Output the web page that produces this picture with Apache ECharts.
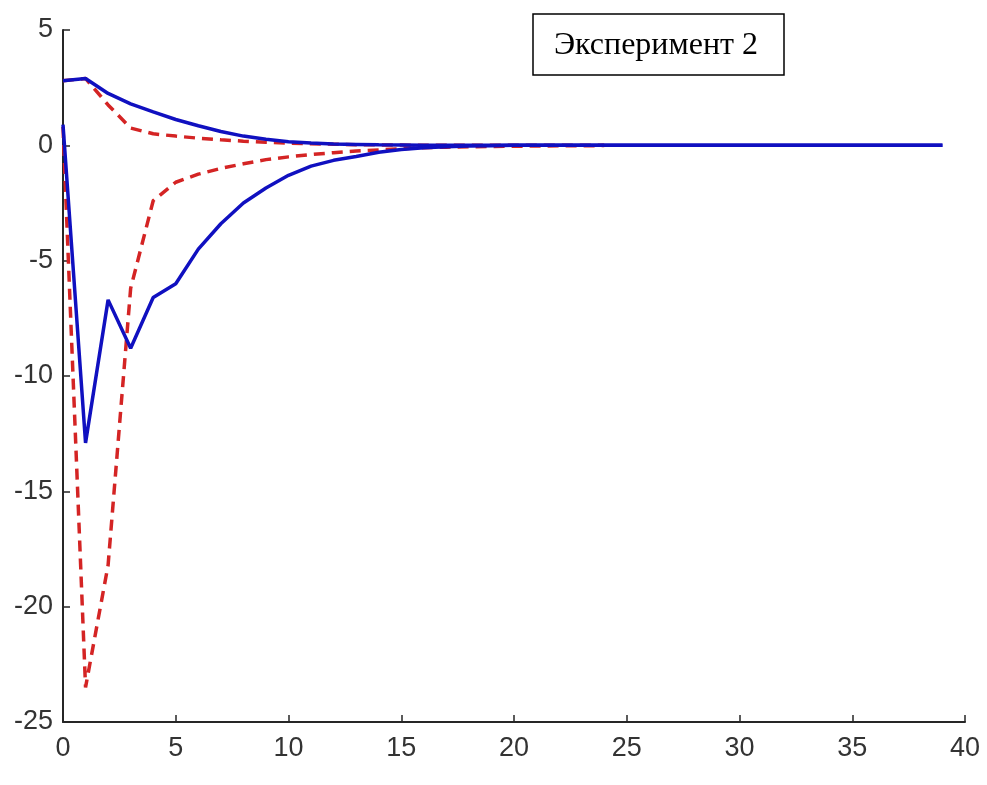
<!DOCTYPE html>
<html>
<head>
<meta charset="utf-8">
<script src="https://cdn.jsdelivr.net/npm/echarts@6/dist/echarts.min.js"></script>
<style>html,body{margin:0;padding:0;background:#fff;}#c{width:987px;height:785px;}</style>
</head>
<body>
<div id="c"></div>
<script>
// ---- data ----
var xBlue = [0,1,2,3,4,5,6,7,8,9,10,11,12,13,14,15,16,17,18,19,20,21,22,23,24,25,26,27,28,29,30,31,32,33,34,35,36,37,38,39];
var blueUpper = [2.8,2.9,2.25,1.8,1.45,1.12,0.85,0.6,0.4,0.26,0.16,0.1,0.06,0.04,0.02,0.01,0,0,0,0,0,0,0,0,0,0,0,0,0,0,0,0,0,0,0,0,0,0,0,0];
var blueLower = [0.9,-12.9,-6.7,-8.8,-6.6,-6.0,-4.5,-3.4,-2.5,-1.85,-1.3,-0.9,-0.65,-0.48,-0.3,-0.18,-0.1,-0.06,-0.03,-0.02,0,0,0,0,0,0,0,0,0,0,0,0,0,0,0,0,0,0,0,0];
var xRed = [0,1,2,3,4,5,6,7,8,9,10,11,12,13,14,15,16,17,18,19,20,21,22,23,24];
var redUpper = [2.8,2.9,1.75,0.75,0.5,0.4,0.31,0.24,0.18,0.13,0.1,0.07,0.05,0.03,0.02,0.01,0,0,0,0,0,0,0,0,0];
var redLower = [0.8,-23.5,-18.2,-6.2,-2.4,-1.6,-1.25,-1.0,-0.8,-0.62,-0.5,-0.4,-0.32,-0.25,-0.2,-0.15,-0.1,-0.08,-0.06,-0.05,-0.04,-0.03,-0.02,-0.02,-0.01];
var xTicks = {min:0, max:40, interval:5};
var yTicks = {min:-25, max:5, interval:5};
var boxText = 'Эксперимент 2';

function pairs(xs, ys){ return xs.map(function(x,i){ return [x, ys[i]]; }); }

var blue = '#1010c0';
var red = '#d42424';
var axisCol = '#262626';

var chart = echarts.init(document.getElementById('c'), null, {renderer:'canvas'});
chart.setOption({
  animation:false,
  backgroundColor:'#fff',
  grid:{left:63, right:22, top:30, bottom:63},
  xAxis:{
    type:'value', min:xTicks.min, max:xTicks.max, interval:xTicks.interval,
    axisLine:{show:true, onZero:false, lineStyle:{color:axisCol, width:2}},
    axisTick:{show:true, inside:true, length:7, lineStyle:{color:axisCol, width:1.5}},
    axisLabel:{color:'#333', fontSize:27, fontFamily:'Liberation Sans, Arial, sans-serif', margin:13},
    splitLine:{show:false}
  },
  yAxis:{
    type:'value', min:yTicks.min, max:yTicks.max, interval:yTicks.interval,
    axisLine:{show:true, onZero:false, lineStyle:{color:axisCol, width:2}},
    axisTick:{show:true, inside:true, length:7, lineStyle:{color:axisCol, width:1.5}},
    axisLabel:{color:'#333', fontSize:27, fontFamily:'Liberation Sans, Arial, sans-serif', margin:10},
    splitLine:{show:false}
  },
  series:[
    {type:'line', data:pairs(xRed, redUpper), showSymbol:false, z:2,
     lineStyle:{color:red, width:3.5, type:[11,7]}},
    {type:'line', data:pairs(xRed, redLower), showSymbol:false, z:2,
     lineStyle:{color:red, width:3.5, type:[11,7]}},
    {type:'line', data:pairs(xBlue, blueUpper), showSymbol:false, z:3,
     lineStyle:{color:blue, width:3.5}},
    {type:'line', data:pairs(xBlue, blueLower), showSymbol:false, z:3,
     lineStyle:{color:blue, width:3.5}}
  ],
  graphic:[
    {type:'rect', x:533, y:14, z:10,
     shape:{x:0, y:0, width:251, height:61},
     style:{fill:'#fff', stroke:'#000', lineWidth:1.5}},
    {type:'text', z:11, x:656, y:46,
     style:{text:boxText, fill:'#000', font:'32px "Liberation Serif", "Times New Roman", serif', textAlign:'center', textVerticalAlign:'middle'}}
  ]
});
</script>
</body>
</html>
